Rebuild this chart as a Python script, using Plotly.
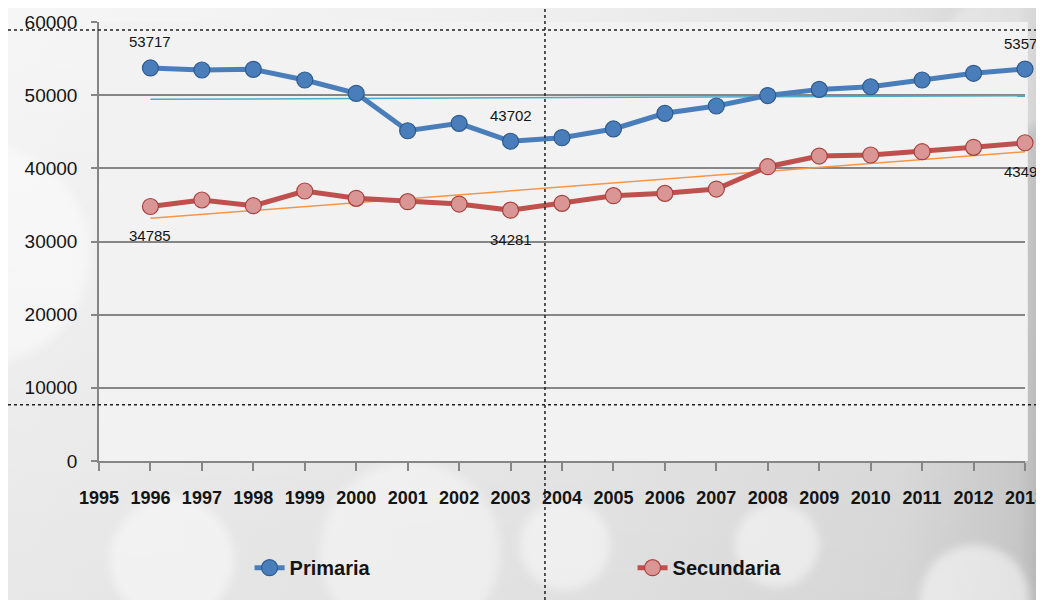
"""Matrícula primaria vs secundaria 1996-2013, Excel-style line chart."""
import base64

import plotly.graph_objects as go

years = [1996, 1997, 1998, 1999, 2000, 2001, 2002, 2003, 2004,
         2005, 2006, 2007, 2008, 2009, 2010, 2011, 2012, 2013]
primaria = [53717, 53440, 53530, 52070, 50250, 45140, 46150, 43702, 44190,
            45380, 47520, 48520, 49950, 50790, 51150, 52070, 52990, 53572]
secundaria = [34785, 35670, 34890, 36900, 35900, 35440, 35120, 34281, 35220,
              36260, 36580, 37170, 40220, 41680, 41820, 42270, 42870, 43494]

# trendlines (Excel linear), endpoints
trend_years = [1996, 2013]
trend_primaria = [49430, 49930]
trend_secundaria = [33170, 42270]

# which points carry a data label
labelled = [1996, 2003, 2013]

_BLUE = "#4A7EBB"
_BLUE_EDGE = "#2F5A8E"
_RED = "#C0504D"
_PINK = "#D99694"
_RED_EDGE = "#A8423F"
_TEAL = "#4BACC6"
_ORANGE = "#F79646"
_GRID = "#868686"
_TXT = "#141414"
_FONT = "Liberation Sans, Arial, sans-serif"

W, H = 1036, 592          # page adds an 8px body margin
ML, MR, MT, MB = 91, 19, 14, 139
PW, PH = W - ML - MR, H - MT - MB

# soft grey slide background with a few bokeh circles
_svg = f"""<svg xmlns='http://www.w3.org/2000/svg' width='{W}' height='{H}'>
<defs>
<linearGradient id='g' x1='0' y1='0' x2='1' y2='0'>
<stop offset='0' stop-color='#F6F6F6'/><stop offset='0.55' stop-color='#EEEEEE'/>
<stop offset='0.86' stop-color='#E3E3E3'/><stop offset='0.975' stop-color='#D2D2D2'/>
<stop offset='1' stop-color='#BDBDBD'/></linearGradient>
<linearGradient id='v' x1='0' y1='0' x2='0' y2='1'>
<stop offset='0' stop-color='#000' stop-opacity='0'/><stop offset='1' stop-color='#000' stop-opacity='0.06'/></linearGradient>
<filter id='b'><feGaussianBlur stdDeviation='4'/></filter>
</defs>
<rect width='{W}' height='{H}' fill='url(#g)'/>
<rect width='{W}' height='{H}' fill='url(#v)'/>
<g fill='#FFFFFF' filter='url(#b)'>
<circle cx='-28' cy='247' r='110' opacity='0.45'/>
<circle cx='164' cy='552' r='62' opacity='0.45'/>
<circle cx='402' cy='544' r='90' opacity='0.4'/>
<circle cx='557' cy='537' r='45' opacity='0.45'/>
<circle cx='769' cy='537' r='42' opacity='0.45'/>
<circle cx='967' cy='592' r='55' opacity='0.5'/>
<circle cx='1002' cy='52' r='70' opacity='0.3'/>
</g>
</svg>"""
_bg = "data:image/svg+xml;base64," + base64.b64encode(_svg.encode()).decode()

fig = go.Figure()

fig.add_trace(go.Scatter(
    x=trend_years, y=trend_primaria, mode="lines",
    line=dict(color=_TEAL, width=1.5), showlegend=False, hoverinfo="skip",
))
fig.add_trace(go.Scatter(
    x=trend_years, y=trend_secundaria, mode="lines",
    line=dict(color=_ORANGE, width=1.5), showlegend=False, hoverinfo="skip",
))
fig.add_trace(go.Scatter(
    x=years, y=primaria, name="Primaria", mode="lines+markers",
    line=dict(color=_BLUE, width=5),
    marker=dict(size=16, color=_BLUE, line=dict(color=_BLUE_EDGE, width=1.2)),
    cliponaxis=False,
))
fig.add_trace(go.Scatter(
    x=years, y=secundaria, name="Secundaria", mode="lines+markers",
    line=dict(color=_RED, width=5),
    marker=dict(size=16, color=_PINK, line=dict(color=_RED_EDGE, width=1.2)),
    cliponaxis=False,
))

# data labels: primaria above, secundaria below
for yr, p, s in zip(years, primaria, secundaria):
    if yr not in labelled:
        continue
    fig.add_annotation(x=yr, y=p, text=str(p), showarrow=False, yshift=26,
                       font=dict(size=15, color=_TXT, family=_FONT))
    fig.add_annotation(x=yr, y=s, text=str(s), showarrow=False, yshift=-29,
                       font=dict(size=15, color=_TXT, family=_FONT))

# plot-area fill (sits above the background image)
fig.add_shape(type="rect", xref="x domain", yref="y domain", x0=0, x1=1.003, y0=0, y1=1,
              fillcolor="#F2F2F2", line_width=0, layer="below")

# dotted guide lines of the slide
_dot = dict(color="#202020", width=1.5, dash="dot")
fig.add_shape(type="line", xref="paper", yref="paper", x0=-ML / PW, x1=1 + MR / PW,
              y0=0.982, y1=0.982, line=_dot)
fig.add_shape(type="line", xref="paper", yref="paper", x0=-ML / PW, x1=1 + MR / PW,
              y0=0.128, y1=0.128, line=_dot)
fig.add_shape(type="line", xref="paper", yref="paper", x0=0.4816, x1=0.4816,
              y0=-MB / PH, y1=1 + MT / PH, line=_dot)

fig.update_layout(
    width=W, height=H,
    margin=dict(l=ML, r=MR, t=MT, b=MB, autoexpand=False),
    paper_bgcolor="#EEEEEE", plot_bgcolor="rgba(0,0,0,0)",
    font=dict(family=_FONT, color=_TXT),
    images=[dict(source=_bg, xref="paper", yref="paper", x=-ML / PW, y=1 + MT / PH,
                 sizex=W / PW, sizey=H / PH, sizing="stretch",
                 xanchor="left", yanchor="top", layer="below")],
    legend=dict(orientation="h", x=0.1626, y=-0.243, xanchor="left", yanchor="middle",
                entrywidth=338, entrywidthmode="pixels",
                bgcolor="rgba(0,0,0,0)",
                font=dict(size=20, family=_FONT, color=_TXT, weight="bold")),
    showlegend=True,
)
fig.update_xaxes(
    range=[1995, 2013], tick0=1995, dtick=1, showgrid=False, zeroline=False,
    showline=True, linecolor=_GRID, linewidth=1.5,
    ticks="outside", ticklen=8, tickcolor=_GRID, tickwidth=1.5,
    ticklabelstandoff=12, ticklabeloverflow="allow", automargin=False,
    tickfont=dict(size=18, family=_FONT, color=_TXT, weight="bold"),
)
fig.update_yaxes(
    range=[0, 60000], dtick=10000, tickformat="d",
    showgrid=True, gridcolor=_GRID, gridwidth=1.5, zeroline=False,
    showline=True, linecolor=_GRID, linewidth=1.5,
    ticks="outside", ticklen=6, tickcolor=_GRID, tickwidth=1.5,
    ticklabelstandoff=10, ticklabeloverflow="allow", automargin=False,
    tickfont=dict(size=19, family=_FONT, color=_TXT),
)

fig.write_html("out.html")
